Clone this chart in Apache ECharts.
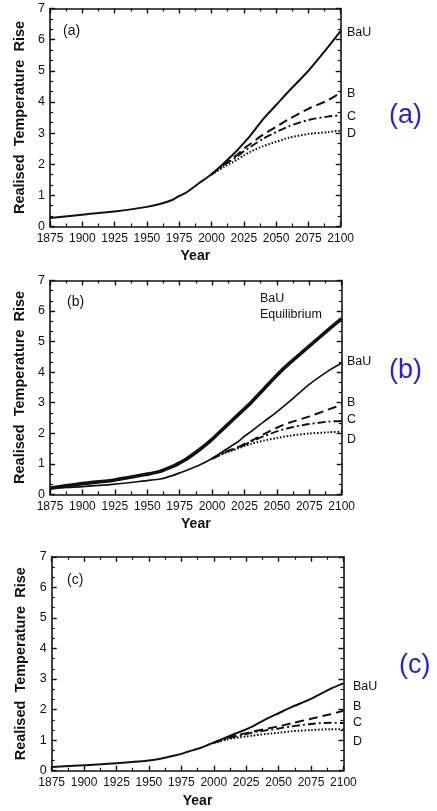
<!DOCTYPE html>
<html>
<head>
<meta charset="utf-8">
<script src="https://cdn.jsdelivr.net/npm/echarts@6/dist/echarts.min.js"></script>
<style>
  html, body { margin: 0; padding: 0; background: #ffffff; }
  #chart { width: 437px; height: 811px; }
</style>
</head>
<body>
<div id="chart"></div>
<script>
// Years of the long historical-to-2100 runs
const yearsFull = [1875, 1900, 1925, 1950, 1960, 1970, 1975, 1980, 1990, 2000,
                   2010, 2020, 2025, 2030, 2040, 2050, 2060, 2075, 2090, 2100];
// Years of the policy scenarios, which branch off after 2000
const yearsScen = [2000, 2010, 2020, 2025, 2030, 2040, 2050, 2060, 2075, 2090, 2100];

// Panel (a)
const bauA = [0.27, 0.38, 0.48, 0.63, 0.72, 0.86, 0.98, 1.08, 1.38, 1.68,
              2.05, 2.45, 2.68, 2.92, 3.45, 3.90, 4.35, 5.00, 5.75, 6.28];
const scenBA = [1.68, 2.00, 2.30, 2.50, 2.65, 2.95, 3.20, 3.45, 3.78, 4.05, 4.30];
const scenCA = [1.68, 1.98, 2.25, 2.42, 2.55, 2.82, 3.03, 3.22, 3.42, 3.53, 3.57];
const scenDA = [1.66, 1.92, 2.15, 2.28, 2.40, 2.58, 2.72, 2.85, 2.97, 3.03, 3.08];

// Panel (b)
const bauEqB = [0.20, 0.35, 0.47, 0.66, 0.75, 0.92, 1.03, 1.15, 1.45, 1.80,
                2.20, 2.60, 2.80, 3.00, 3.45, 3.90, 4.30, 4.85, 5.40, 5.75];
const bauB = [0.20, 0.25, 0.33, 0.45, 0.50, 0.62, 0.70, 0.78, 0.95, 1.17,
              1.45, 1.72, 1.90, 2.05, 2.38, 2.70, 3.05, 3.60, 4.05, 4.30];
const scenBB = [1.17, 1.38, 1.55, 1.65, 1.75, 1.97, 2.18, 2.35, 2.55, 2.78, 2.93];
const scenCB = [1.17, 1.37, 1.53, 1.62, 1.72, 1.90, 2.06, 2.18, 2.30, 2.38, 2.40];
const scenDB = [1.16, 1.35, 1.50, 1.58, 1.65, 1.76, 1.84, 1.92, 1.99, 2.03, 2.05];

// Panel (c)
const bauC = [0.12, 0.18, 0.24, 0.33, 0.40, 0.50, 0.55, 0.62, 0.75, 0.92,
              1.10, 1.27, 1.35, 1.45, 1.68, 1.88, 2.08, 2.35, 2.68, 2.86];
const scenBC = [0.92, 1.07, 1.18, 1.23, 1.28, 1.37, 1.45, 1.55, 1.70, 1.85, 1.96];
const scenCC = [0.92, 1.05, 1.15, 1.20, 1.25, 1.32, 1.38, 1.45, 1.53, 1.57, 1.56];
const scenDC = [0.90, 1.02, 1.09, 1.12, 1.15, 1.20, 1.24, 1.29, 1.33, 1.36, 1.35];

const panelTags = ['(a)', '(b)', '(c)'];
const curveNames = ['BaU', 'B', 'C', 'D'];
const eqNameLines = ['BaU', 'Equilibrium'];
const yTitle = 'Realised  Temperature  Rise';
const xTitle = 'Year';

const FONT = '"Liberation Sans", Arial, Helvetica, sans-serif';
const INK = '#111111';

const pair = (xs, ys) => xs.map((x, i) => [x, ys[i]]);

// Panel frames (pixel layout)
const grids = [
  { left: 50, top: 8.5, width: 290.7, height: 218 },
  { left: 50, top: 280.5, width: 291.7, height: 213.8 },
  { left: 51.7, top: 556.8, width: 291.7, height: 213.9 }
];

const xAxes = [], yAxes = [];
grids.forEach((g, gi) => {
  const baseX = {
    type: 'value', gridIndex: gi, min: 1875, max: 2100, interval: 25,
    axisLine: { show: true, onZero: false, lineStyle: { color: INK, width: 1.6 } },
    axisTick: { show: true, inside: true, length: 5, lineStyle: { color: INK, width: 1.4 } },
    minorTick: { show: true, splitNumber: 2, length: 3, lineStyle: { color: INK, width: 1.2 } },
    splitLine: { show: false }
  };
  xAxes.push(Object.assign({}, baseX, {
    position: 'bottom',
    axisLabel: { color: INK, fontFamily: FONT, fontSize: 12, margin: 6, hideOverlap: false,
                 showMinLabel: true, showMaxLabel: true, formatter: v => String(v) },
    name: xTitle, nameLocation: 'middle', nameGap: 23,
    nameTextStyle: { color: INK, fontFamily: FONT, fontWeight: 'bold', fontSize: 14 }
  }));
  xAxes.push(Object.assign({}, baseX, { position: 'top', axisLabel: { show: false } }));

  const baseY = {
    type: 'value', gridIndex: gi, min: 0, max: 7, interval: 1,
    axisLine: { show: true, onZero: false, lineStyle: { color: INK, width: 1.6 } },
    axisTick: { show: true, inside: true, length: 5, lineStyle: { color: INK, width: 1.4 } },
    minorTick: { show: true, splitNumber: 3, length: 3, lineStyle: { color: INK, width: 1.2 } },
    splitLine: { show: false }
  };
  yAxes.push(Object.assign({}, baseY, {
    position: 'left',
    axisLabel: { color: INK, fontFamily: FONT, fontSize: 12.5, margin: 5 },
    name: yTitle, nameLocation: 'middle', nameGap: 23,
    nameTextStyle: { color: INK, fontFamily: FONT, fontWeight: 'bold', fontSize: 14.5 }
  }));
  yAxes.push(Object.assign({}, baseY, { position: 'right', axisLabel: { show: false } }));
});

function line(gi, data, style) {
  return {
    type: 'line', xAxisIndex: gi * 2, yAxisIndex: gi * 2, data: data,
    smooth: 0.25, symbol: 'none', silent: true, animation: false,
    lineStyle: Object.assign({ color: INK, width: 1.8, cap: 'butt' }, style)
  };
}
const SOLID = { type: 'solid', width: 2 };
const DASH = { type: [9, 5], width: 2 };
const DASHDOT = { type: [8, 3, 2, 3], width: 1.9 };
const DOT = { type: [1.6, 1.8], width: 2 };

const series = [
  line(0, pair(yearsFull, bauA), SOLID),
  line(0, pair(yearsScen, scenBA), DASH),
  line(0, pair(yearsScen, scenCA), DASHDOT),
  line(0, pair(yearsScen, scenDA), DOT),

  line(1, pair(yearsFull, bauEqB), { type: 'solid', width: 3.6 }),
  line(1, pair(yearsFull, bauB), { type: 'solid', width: 1.7 }),
  line(1, pair(yearsScen, scenBB), DASH),
  line(1, pair(yearsScen, scenCB), DASHDOT),
  line(1, pair(yearsScen, scenDB), DOT),

  line(2, pair(yearsFull, bauC), SOLID),
  line(2, pair(yearsScen, scenBC), DASH),
  line(2, pair(yearsScen, scenCC), DASHDOT),
  line(2, pair(yearsScen, scenDC), DOT)
];

// Text placed beside / inside each panel
const curveLabelPos = [
  { x: 347, ys: [33, 94, 117, 134] },
  { x: 347, ys: [362, 403, 420, 440] },
  { x: 353, ys: [687, 707, 723, 742] }
];
const innerTagPos = [[63, 31], [67, 302], [67, 580]];
const sideTagPos = [[389, 116], [389, 371], [399, 666]];

const graphic = [];
curveLabelPos.forEach(p => {
  curveNames.forEach((n, i) => {
    graphic.push({ type: 'text', x: p.x, y: p.ys[i], silent: true,
      style: { text: n, fill: INK, font: '12.5px ' + FONT, verticalAlign: 'middle' } });
  });
});
panelTags.forEach((t, i) => {
  graphic.push({ type: 'text', x: innerTagPos[i][0], y: innerTagPos[i][1], silent: true,
    style: { text: t, fill: INK, font: '14px ' + FONT, verticalAlign: 'middle' } });
  graphic.push({ type: 'text', x: sideTagPos[i][0], y: sideTagPos[i][1], silent: true,
    style: { text: t, fill: '#2424d6', font: '27px ' + FONT, verticalAlign: 'middle' } });
});
eqNameLines.forEach((t, i) => {
  graphic.push({ type: 'text', x: 260, y: 299 + i * 16, silent: true,
    style: { text: t, fill: INK, font: '12.5px ' + FONT, verticalAlign: 'middle' } });
});

const chart = echarts.init(document.getElementById('chart'), null, { renderer: 'canvas' });
chart.setOption({
  backgroundColor: '#ffffff',
  animation: false,
  grid: grids,
  xAxis: xAxes,
  yAxis: yAxes,
  series: series,
  graphic: graphic
});
</script>
</body>
</html>
